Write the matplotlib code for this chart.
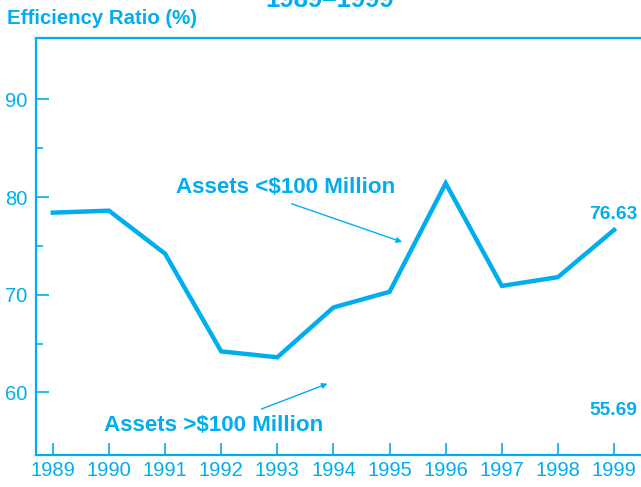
import matplotlib
matplotlib.use("Agg")
import matplotlib.pyplot as plt

# efficiency ratio, banks with assets < $100 million
years = [1989, 1990, 1991, 1992, 1993, 1994, 1995, 1996, 1997, 1998, 1999]
ratio_small = [78.4, 78.6, 74.2, 64.2, 63.6, 68.7, 70.3, 81.4, 70.9, 71.8, 76.63]
end_labels = ["76.63", "55.69"]
y_ticks = [60, 70, 80, 90]

cyan = "#00AEEF"
plt.rcParams["font.family"] = ["Liberation Sans", "DejaVu Sans"]

fig = plt.figure(figsize=(6.41, 4.87), dpi=100)
ax = fig.add_axes([36 / 641, 1 - 455 / 487, 1 - 36 / 641, (455 - 38) / 487])

ax.plot(years, ratio_small, color=cyan, lw=3.2, solid_joinstyle="miter")

ax.set_xlim(1988.70, 1999.48)
ax.set_ylim(53.6, 96.27)
ax.set_xticks(years)
ax.set_yticks(y_ticks)
ax.set_yticks([65, 75, 85], minor=True)
ax.tick_params(axis="both", which="major", direction="in", length=9, width=1.2,
               colors=cyan, labelsize=14.5, pad=6)
ax.tick_params(axis="y", which="minor", direction="in", length=5, width=1.2, colors=cyan)
ax.tick_params(axis="x", pad=4)

for side in ["left", "bottom", "top"]:
    ax.spines[side].set_color(cyan)
    ax.spines[side].set_linewidth(1.6)
ax.spines["right"].set_visible(False)

# end-of-series values
ax.text(1998.98, 78.2, end_labels[0], color=cyan, fontsize=13.8, fontweight="bold",
        ha="center", va="center")
ax.text(1998.98, 58.2, end_labels[1], color=cyan, fontsize=13.8, fontweight="bold",
        ha="center", va="center")

# series annotations
ax.annotate("", xy=(1995.27, 75.3), xytext=(1993.21, 79.4),
            arrowprops=dict(arrowstyle="-|>", color=cyan, lw=1, mutation_scale=8))
ax.text(1993.14, 81.0, "Assets <$100 Million", color=cyan, fontsize=16.1,
        fontweight="bold", ha="center", va="center")
ax.annotate("", xy=(1993.94, 61.0), xytext=(1992.67, 58.2),
            arrowprops=dict(arrowstyle="-|>", color=cyan, lw=1, mutation_scale=8))
ax.text(1991.87, 56.6, "Assets >$100 Million", color=cyan, fontsize=16.1,
        fontweight="bold", ha="center", va="center")

fig.text(7 / 641, 1 - 18 / 487, "Efficiency Ratio (%)", color=cyan, fontsize=14.7,
         fontweight="bold", ha="left", va="center")
fig.text(330 / 641, 1 - 7 / 487, "1989\u20131999", color=cyan, fontsize=18.5,
         fontweight="bold", ha="center", va="baseline")

fig.savefig("out.png", dpi=100)
